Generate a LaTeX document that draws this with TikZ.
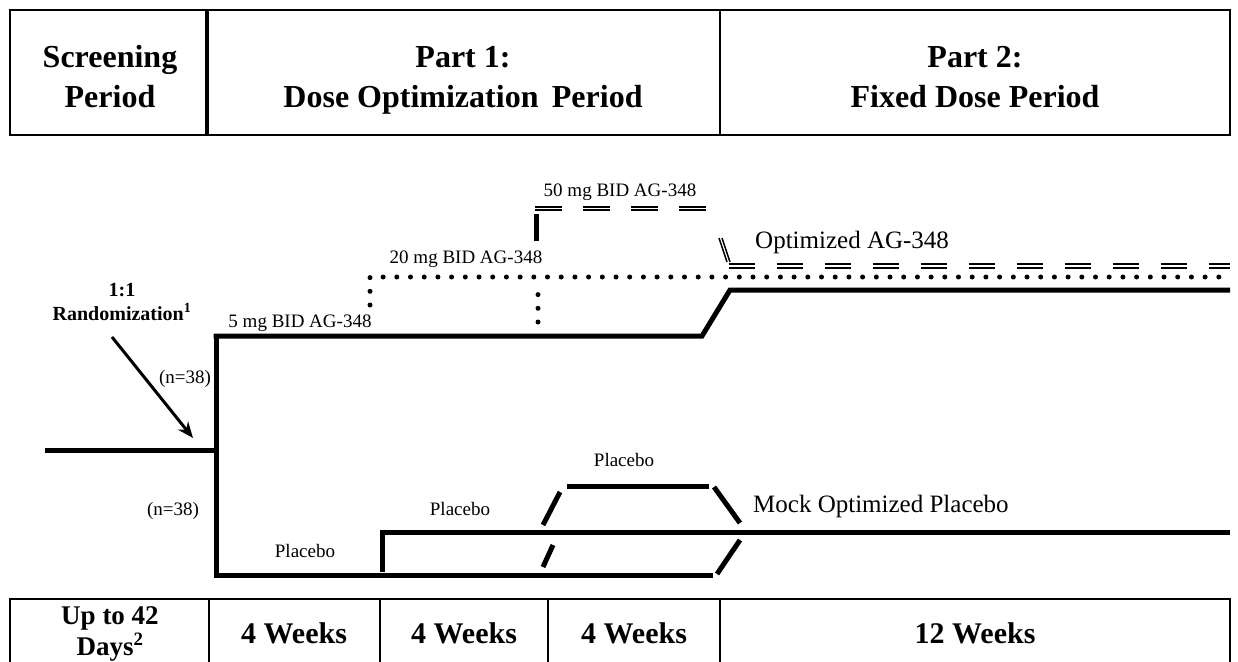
\documentclass[tikz,border=0pt]{standalone}
\usepackage{fontspec}
\setmainfont{Liberation Serif}
\usetikzlibrary{arrows.meta}
\tikzset{
  arm/.style={line width=5pt},
  dotline/.style={line width=5pt, line cap=round, dash pattern=on 0pt off 13.7pt},
  dashline/.style={line width=5pt, dash pattern=on 27pt off 21pt},
  optdash/.style={line width=1.6pt, dash pattern=on 26pt off 22pt},
  cell/.style={draw, line width=2pt},
  hdr/.style={font=\fontsize{32}{40}\selectfont\bfseries, align=center, anchor=base, inner sep=0pt},
  wk/.style={font=\fontsize{30}{31}\selectfont\bfseries, align=center, anchor=base, inner sep=0pt},
  lbl/.style={font=\fontsize{19}{22}\selectfont, anchor=base, inner sep=0pt},
  big/.style={font=\fontsize{25}{30}\selectfont, anchor=base west, inner sep=0pt},
}
\begin{document}
\begin{tikzpicture}[x=1pt, y=-1pt]
\useasboundingbox (0,0) rectangle (1238,661);
% top table
\draw[cell] (10,10) rectangle (1230,135);
\draw[line width=4pt] (207,10) -- (207,135);
\draw[line width=2pt] (720,10) -- (720,135);
\node[hdr] (scr) at (110,107) {Screening\\Period};
\node[hdr] (p1) at (463,107) {Part 1:\\Dose Optimization\, Period};
\node[hdr] (p2) at (975,107) {Part 2:\\Fixed Dose Period};
% bottom table
\draw[line width=2pt] (10,680) -- (10,599) -- (1230,599) -- (1230,680);
\foreach \xx in {209,380,548,720} \draw[line width=2pt] (\xx,599) -- (\xx,680);
\node[font=\fontsize{27}{31}\selectfont\bfseries, align=center, anchor=base, inner sep=0pt] (d42) at (110,655) {Up to 42\\Days\textsuperscript{2}};
\node[wk] (w1) at (294,643) {4 Weeks};
\node[wk] (w2) at (464,643) {4 Weeks};
\node[wk] (w3) at (634,643) {4 Weeks};
\node[wk] (w4) at (975,643) {12 Weeks};
% coordinates
\coordinate (s0) at (45,450);
\coordinate (s1) at (216,450);
\coordinate (vt) at (216,336);
\coordinate (vb) at (216,577);
\coordinate (u1) at (702,336);
\coordinate (u2) at (730,290);
\coordinate (u3) at (1230,290);
\coordinate (lb1) at (713,575);
% screening line and split
\draw[arm] (s0) -- (s1);
\draw[arm] (vt) -- (vb);
% AG-348 arm
\draw[arm, line join=miter] (213.5,336) -- (u1) -- (u2) -- (u3);
% 20 mg dotted
\coordinate (d0) at (370,305);
\coordinate (d1) at (370,277);
\coordinate (d2) at (1230,277);
\draw[dotline] (d0) -- (d1) -- (d2);
\draw[dotline] (538,322) -- (538,294);
% 50 mg dashed
\coordinate (f0) at (536,241);
\coordinate (f1) at (536,214);
\draw[line width=5pt] (f0) -- (f1);
\coordinate (g0) at (535,208);
\coordinate (g1) at (708,208);
\draw[dashline] (g0) -- (g1);
\draw[white, line width=0.8pt, dash pattern=on 27pt off 21pt] (g0) -- (g1);
% optimized dashed
\coordinate (o0) at (720,238);
\coordinate (o1) at (728,262);
\draw[line width=1.5pt] (719,238) -- (727,262);
\draw[line width=1.5pt] (722,238) -- (730,262);
\draw[optdash] (729,264) -- (1230,264);
\draw[optdash] (729,268) -- (1230,268);
% arrow
\coordinate (a0) at (112,337);
\coordinate (a1) at (193,438);
\draw[line width=3pt, -{Stealth[length=16pt, width=13pt]}] (a0) -- (a1);
% placebo arm
\draw[arm] (213.5,575) -- (lb1);
\draw[arm] (717,574) -- (740,540);
\draw[arm] (380,532) -- (1230,532);
\draw[arm] (382,532) -- (382,572);
\draw[arm] (567,486) -- (709,486);
\draw[arm] (543,525) -- (560,492);
\draw[arm] (543,567) -- (553,545);
\draw[arm] (714,487) -- (740,523);
% labels
\node[font=\fontsize{20}{24}\selectfont\bfseries, align=center, anchor=base, inner sep=0pt] (rnd) at (122,320) {1:1\\Randomization\textsuperscript{1}};
\node[lbl] (n1) at (185,383) {(n=38)};
\node[lbl] (n2) at (173,515) {(n=38)};
\node[lbl] (l5) at (300,327) {5 mg BID AG-348};
\node[lbl] (l20) at (466,263) {20 mg BID AG-348};
\node[lbl] (l50) at (620,196) {50 mg BID AG-348};
\node[big] (opt) at (755,248) {Optimized AG-348};
\node[big] (mock) at (753,512) {Mock Optimized Placebo};
\node[lbl] (pl1) at (305,557) {Placebo};
\node[lbl] (pl2) at (460,515) {Placebo};
\node[lbl] (pl3) at (624,466) {Placebo};
\end{tikzpicture}
\end{document}
